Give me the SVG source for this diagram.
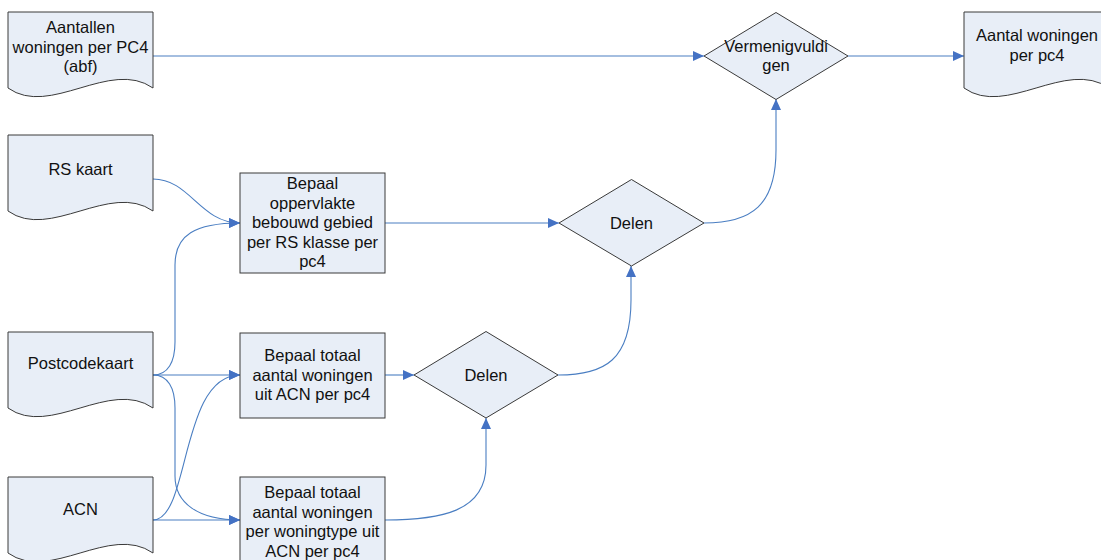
<svg xmlns="http://www.w3.org/2000/svg" xmlns:xlink="http://www.w3.org/1999/xlink" width="1101" height="560" viewBox="0 0 1101 560">
  <style>
    .shape { fill: #E8EEF7; stroke: #3a3a3a; stroke-width: 1; }
    .lbl { font-family: "Liberation Sans", Arial, sans-serif; font-size: 16.5px; fill: #111; text-anchor: middle; }
    .conn { fill: none; stroke: #4A7EC2; stroke-width: 1.1; }
    .conn.arrow { marker-end: url(#arrow); }
  </style>
  <defs>
    <!-- document shape with wavy bottom, 145 x 76 -->
    <path id="doc" d="M0,0 H145 V76 C102,46 42,106 0,76 Z"/>
    <marker id="arrow" markerUnits="userSpaceOnUse" markerWidth="12" markerHeight="11" refX="11" refY="5" orient="auto">
      <path d="M0,0 L11,5 L0,10 Z" fill="#4472C4"/>
    </marker>
  </defs>
  <rect width="1101" height="560" fill="#ffffff"/>

  <!-- connectors -->
  <g id="connectors">
    <path class="conn arrow" d="M153,56 H704"/>
    <path class="conn arrow" d="M848,56 H964"/>
    <path class="conn arrow" d="M153,179 C190,179 200,223 240,223"/>
    <path class="conn arrow" d="M153,375 C168,375 175,362 175,342 L175,265 C175,235 195,223 240,223"/>
    <path class="conn arrow" d="M153,375 H240"/>
    <path class="conn arrow" d="M153,375 C168,375 175,388 175,408 L175,476 C175,503 198,520 240,520"/>
    <path class="conn arrow" d="M153,520 H240"/>
    <path class="conn arrow" d="M153,520 C190,520 180,375 240,375"/>
    <path class="conn arrow" d="M385,223 H559"/>
    <path class="conn arrow" d="M385,375 H414"/>
    <path class="conn arrow" d="M385,520 C440,520 486,512 486,465 L486,418"/>
    <path class="conn arrow" d="M558,375 C605,375 631,360 631,300 L631,266"/>
    <path class="conn arrow" d="M704,223 C752,223 776,205 776,150 L776,99"/>
  </g>

  <g id="doc-aantallen">
    <use xlink:href="#doc" class="shape" x="8" y="12"/>
    <text class="lbl" x="80.5" y="33">Aantallen</text>
    <text class="lbl" x="80.5" y="52.5">woningen per PC4</text>
    <text class="lbl" x="80.5" y="72">(abf)</text>
  </g>

  <g id="doc-rs-kaart">
    <use xlink:href="#doc" class="shape" x="8" y="135"/>
    <text class="lbl" x="80.5" y="175">RS kaart</text>
  </g>

  <g id="doc-postcodekaart">
    <use xlink:href="#doc" class="shape" x="8" y="332"/>
    <text class="lbl" x="80.5" y="369">Postcodekaart</text>
  </g>

  <g id="doc-acn">
    <use xlink:href="#doc" class="shape" x="8" y="477"/>
    <text class="lbl" x="80.5" y="515">ACN</text>
  </g>

  <g id="doc-output">
    <use xlink:href="#doc" class="shape" x="964" y="12"/>
    <text class="lbl" x="1037" y="41">Aantal woningen</text>
    <text class="lbl" x="1037" y="61">per pc4</text>
  </g>

  <g id="box-oppervlakte">
    <rect class="shape" x="240" y="173" width="145" height="100"/>
    <text class="lbl" x="312.5" y="189">Bepaal</text>
    <text class="lbl" x="312.5" y="208.5">oppervlakte</text>
    <text class="lbl" x="312.5" y="228">bebouwd gebied</text>
    <text class="lbl" x="312.5" y="247.5">per RS klasse per</text>
    <text class="lbl" x="312.5" y="267">pc4</text>
  </g>

  <g id="box-totaal">
    <rect class="shape" x="240" y="333" width="145" height="85"/>
    <text class="lbl" x="312.5" y="361">Bepaal totaal</text>
    <text class="lbl" x="312.5" y="380.5">aantal woningen</text>
    <text class="lbl" x="312.5" y="400">uit ACN per pc4</text>
  </g>

  <g id="box-woningtype">
    <rect class="shape" x="240" y="477" width="145" height="90"/>
    <text class="lbl" x="312.5" y="498">Bepaal totaal</text>
    <text class="lbl" x="312.5" y="517.5">aantal woningen</text>
    <text class="lbl" x="312.5" y="537">per woningtype uit</text>
    <text class="lbl" x="312.5" y="556.5">ACN per pc4</text>
  </g>

  <g id="dec-vermenigvuldigen">
    <path class="shape" d="M704,56 L776,12.5 L848,56 L776,99.5 Z"/>
    <text class="lbl" x="776" y="51.5">Vermenigvuldi</text>
    <text class="lbl" x="776" y="71">gen</text>
  </g>

  <g id="dec-delen-1">
    <path class="shape" d="M559,223 L631.5,179.5 L704,223 L631.5,266 Z"/>
    <text class="lbl" x="631.5" y="228.5">Delen</text>
  </g>

  <g id="dec-delen-2">
    <path class="shape" d="M414,375 L486,331.5 L558,375 L486,418 Z"/>
    <text class="lbl" x="486" y="381">Delen</text>
  </g>
</svg>
